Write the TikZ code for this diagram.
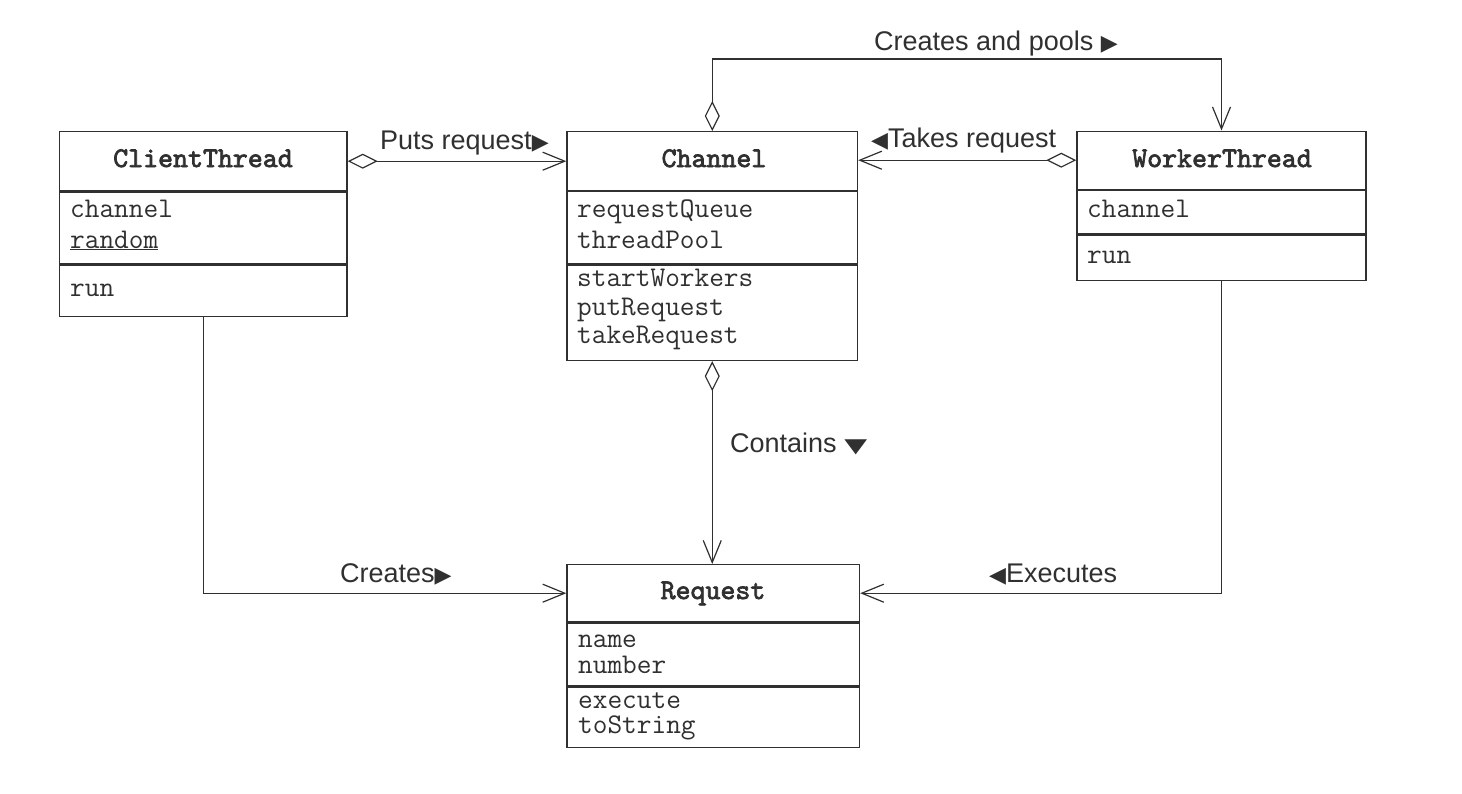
\documentclass[tikz,border=0pt]{standalone}
\usepackage{fontspec}
\setmainfont{Liberation Sans}
\newfontfamily\symf{DejaVu Sans}
\newfontfamily\monob{lmmono10-regular.otf}[FakeBold=2.5]
\usetikzlibrary{arrows.meta}
\definecolor{ink}{HTML}{303030}
\newcommand{\tri}[1]{{\symf\fontsize{22}{22}\selectfont #1}}
\begin{document}
\begin{tikzpicture}[x=1pt,y=-1pt,
  comp/.style={draw=ink, line width=1.4pt, inner sep=0pt, anchor=north},
  mtext/.style={inner sep=0pt, anchor=base west, text=ink, font=\ttfamily\fontsize{28.5}{34}\selectfont},
  cname/.style={inner sep=0pt, anchor=base, text=ink, font=\monob\fontsize{28.5}{34}\selectfont},
  lbl/.style={inner sep=0pt, anchor=base west, text=ink, font=\fontsize{27}{32}\selectfont},
  conn/.style={draw=ink, line width=1.2pt},
  agg/.style={conn, arrows={{Diamond[open,length=30pt,width=15pt]}-{Straight Barb[length=22pt,width=18pt]}}},
  assoc/.style={conn, arrows={-{Straight Barb[length=22pt,width=18pt]}}}]
\fill[white] (0,0) rectangle (1462,793);
\useasboundingbox (0,0) rectangle (1462,793);

% ClientThread
\node[comp, minimum width=287.5pt, minimum height=59pt] (ctH) at (203.25,131) {};
\node[comp, minimum width=287.5pt, minimum height=72pt] (ctA) at (ctH.south) {};
\node[comp, minimum width=287.5pt, minimum height=51pt] (ctM) at (ctA.south) {};
\node[cname] (ctN) at (203,167) {ClientThread};
\node[mtext] (ct1) at (70,217) {channel};
\node[mtext] (ct2) at (70,248) {\underline{random}};
\node[mtext] (ct3) at (70,296) {run};

% Channel
\node[comp, minimum width=290.5pt, minimum height=58.5pt] (chH) at (712.25,131) {};
\node[comp, minimum width=290.5pt, minimum height=72.5pt] (chA) at (chH.south) {};
\node[comp, minimum width=290.5pt, minimum height=95pt] (chM) at (chA.south) {};
\node[cname] (chN) at (714,167) {Channel};
\node[mtext] (ch1) at (577,217) {requestQueue};
\node[mtext] (ch2) at (577,248) {threadPool};
\node[mtext] (ch3) at (577,286) {startWorkers};
\node[mtext] (ch4) at (577,315) {putRequest};
\node[mtext] (ch5) at (577,343) {takeRequest};

% WorkerThread
\node[comp, minimum width=289pt, minimum height=58pt] (wtH) at (1221.5,130.5) {};
\node[comp, minimum width=289pt, minimum height=43.5pt] (wtA) at (wtH.south) {};
\node[comp, minimum width=289pt, minimum height=45pt] (wtM) at (wtA.south) {};
\node[cname] (wtN) at (1222,167) {WorkerThread};
\node[mtext] (wt1) at (1087,217) {channel};
\node[mtext] (wt2) at (1087,263) {run};

% Request
\node[comp, minimum width=292.5pt, minimum height=57pt] (rqH) at (713.25,564) {};
\node[comp, minimum width=292.5pt, minimum height=62.5pt] (rqA) at (rqH.south) {};
\node[comp, minimum width=292.5pt, minimum height=60.5pt] (rqM) at (rqA.south) {};
\node[cname] (rqN) at (713,599) {Request};
\node[mtext] (rq1) at (578,647) {name};
\node[mtext] (rq2) at (578,673) {number};
\node[mtext] (rq3) at (578,708) {execute};
\node[mtext] (rq4) at (578,733) {toString};

% connectors
\draw[agg] (ctH.east) -- (ctH.east -| chH.west);
\draw[agg] (wtH.west) -- (wtH.west -| chH.east);
\draw[agg] (chH.north) -- ++(0,-72) -| (wtH.north);
\draw[agg] (chM.south) -- (rqH.north -| chM.south);
\draw[assoc] (ctM.south) |- (rqH.west);
\draw[assoc] (wtM.south) |- (rqH.east);

% labels
\node[lbl] (l1) at (874,50) {Creates and pools \tri{▶}};
\node[lbl] (l2) at (380,149) {Puts request\tri{▶}};
\node[lbl] (l3) at (871,147) {\tri{◀}Takes request};
\node[lbl] (l4) at (730,452) {Contains \tri{\scalebox{1.35}[0.9]{▼}}};
\node[lbl] (l5) at (340,582) {Creates\tri{▶}};
\node[lbl] (l6) at (989,582) {\tri{◀}Executes};
\end{tikzpicture}
\end{document}
